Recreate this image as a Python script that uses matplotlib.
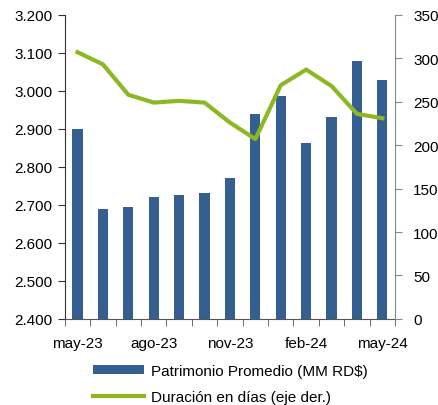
import matplotlib
matplotlib.use("Agg")
import matplotlib.pyplot as plt
from matplotlib.patches import Patch
from matplotlib.lines import Line2D

months = ["may-23", "jun-23", "jul-23", "ago-23", "sep-23", "oct-23", "nov-23",
          "dic-23", "ene-24", "feb-24", "mar-24", "abr-24", "may-24"]
patrimonio = [2.900, 2.689, 2.694, 2.721, 2.726, 2.731, 2.771,
              2.939, 2.986, 2.863, 2.931, 3.078, 3.029]
duracion = [307, 293, 258, 249, 251, 249, 226, 207, 269, 287, 268, 236, 231]
left_ticks = [2.4, 2.5, 2.6, 2.7, 2.8, 2.9, 3.0, 3.1, 3.2]
right_ticks = [0, 50, 100, 150, 200, 250, 300, 350]
shown_labels = ["may-23", "ago-23", "nov-23", "feb-24", "may-24"]

plt.rcParams['font.family'] = ['Liberation Sans', 'DejaVu Sans']
bar_color = "#355F90"
line_color = "#8DB824"

fig = plt.figure(figsize=(4.38, 4.06), dpi=100)
ax = fig.add_axes([0.148, 0.212, 0.754, 0.749])
x = list(range(len(months)))
ax.bar(x, patrimonio, width=0.4, color=bar_color, zorder=2)
ax.set_ylim(2.4, 3.2)
ax.set_yticks(left_ticks)
ax.set_yticklabels([f"{v:.3f}" for v in left_ticks], fontsize=11)
ax.set_xlim(-0.5, len(months) - 0.5)
ax.set_xticks([i for i, m in enumerate(months) if m in shown_labels])
ax.set_xticklabels(shown_labels, fontsize=11)
ax.tick_params(axis='x', length=0, pad=12)
ax.set_xticks([i - 0.5 for i in range(len(months) + 1)], minor=True)
ax.tick_params(axis='x', which='minor', length=5, color='#555555', direction='out')
ax.tick_params(axis='y', length=5, direction='out', color='#333333', pad=4)
ax.spines['top'].set_visible(False)
ax.spines['right'].set_visible(False)
ax.spines['left'].set_color('#333333')
ax.spines['bottom'].set_color('#555555')

ax2 = ax.twinx()
ax2.plot(x, duracion, color=line_color, lw=3, zorder=3, solid_joinstyle='round')
ax2.set_ylim(0, 350)
ax2.set_yticks(right_ticks)
ax2.set_yticklabels([str(v) for v in right_ticks], fontsize=11)
ax2.tick_params(axis='y', length=5, direction='out', color='#888888', pad=8)
ax2.spines['top'].set_visible(False)
ax2.spines['left'].set_visible(False)
ax2.spines['bottom'].set_visible(False)
ax2.spines['right'].set_color('#888888')

handles = [Patch(facecolor=bar_color, edgecolor='none'),
           Line2D([0], [0], color=line_color, lw=3)]
labels = ["Patrimonio Promedio (MM RD$)", "Duración en días (eje der.)"]
fig.legend(handles, labels, loc='upper center', bbox_to_anchor=(0.525, 0.12),
           frameon=False, fontsize=11, handlelength=3.4, handleheight=0.45,
           labelspacing=0.8, handletextpad=0.4, borderpad=0)
fig.savefig("out.png", dpi=100)
